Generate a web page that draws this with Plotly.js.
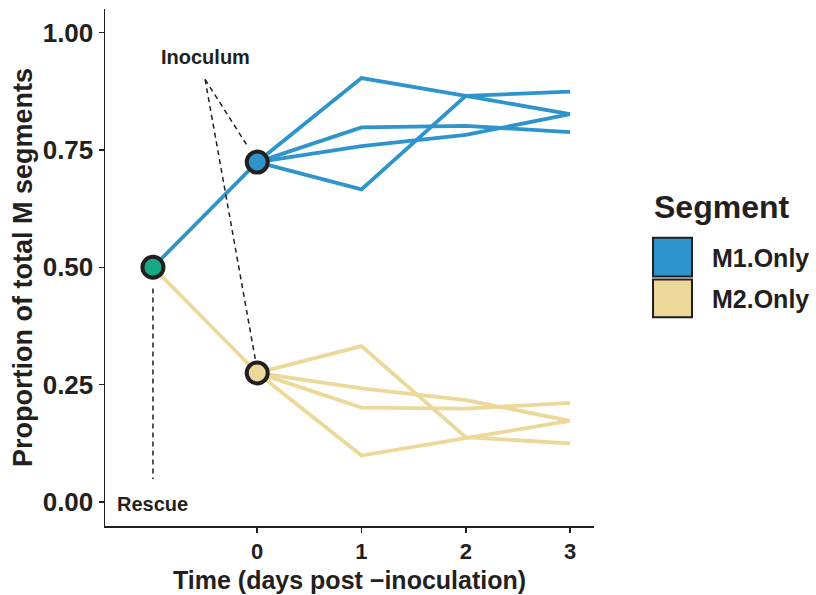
<!DOCTYPE html>
<html>
<head>
<meta charset="utf-8">
<script src="https://cdn.plot.ly/plotly-3.0.1.min.js"></script>
<style>html,body{margin:0;padding:0;background:#fff;}#chart{width:816px;height:595px;}</style>
</head>
<body>
<div id="chart"></div>
<script>
// ---- data ----
const days = [0, 1, 2, 3];
const rescueX = -1;
const rescueValue = 0.5;
const segmentNames = ["M1.Only", "M2.Only"];
const inoculumM1 = 0.724;
const inoculumM2 = 0.275;
const m1Rep1 = [0.724, 0.903, 0.865, 0.826];
const m1Rep2 = [0.724, 0.798, 0.801, 0.788];
const m1Rep3 = [0.724, 0.758, 0.782, 0.826];
const m1Rep4 = [0.724, 0.666, 0.865, 0.874];
const m2Rep1 = [0.275, 0.332, 0.138, 0.125];
const m2Rep2 = [0.275, 0.242, 0.217, 0.173];
const m2Rep3 = [0.275, 0.201, 0.199, 0.211];
const m2Rep4 = [0.275, 0.099, 0.136, 0.173];
const xTicks = [0, 1, 2, 3];
const yTicks = [0, 0.25, 0.5, 0.75, 1];
const yTickText = ["0.00", "0.25", "0.50", "0.75", "1.00"];
const labelTexts = ["Inoculum", "Rescue"];
const xTitle = "Time (days post −inoculation)";
const yTitle = "Proportion of total M segments";

// ---- styles ----
const blue = "#2E94CC", yellow = "#ECD898", green = "#16A986", ink = "#231F20";
const FONT = "Liberation Sans, Arial, sans-serif";
const bold = s => "<b>" + s + "</b>";

const traces = [];
function line(x, y, color) {
  traces.push({x: x, y: y, mode: "lines", type: "scatter", showlegend: false, hoverinfo: "skip",
    line: {color: color, width: 3.8}});
}
[m1Rep1, m1Rep2, m1Rep3, m1Rep4].forEach(r => line(days, r, blue));
[m2Rep1, m2Rep2, m2Rep3, m2Rep4].forEach(r => line(days, r, yellow));
line([rescueX, 0], [rescueValue, inoculumM1], blue);
line([rescueX, 0], [rescueValue, inoculumM2], yellow);
traces.push({x: [0, 0, rescueX], y: [inoculumM1, inoculumM2, rescueValue], mode: "markers", type: "scatter",
  showlegend: false, hoverinfo: "skip",
  marker: {size: 21, color: [blue, yellow, green], line: {color: ink, width: 4}}});

// annotation geometry (data coords)
const inocFrom = [-0.5, 0.9];
const inocTo1 = [-0.096, 0.759];
const inocTo2 = [-0.016, 0.301];
const rescueLine = [0.455, 0.049];

const dash = {color: ink, width: 1.5, dash: "5px,4px"};
const shapes = [
  {type: "line", xref: "x", yref: "y", x0: inocFrom[0], y0: inocFrom[1], x1: inocTo1[0], y1: inocTo1[1], line: dash},
  {type: "line", xref: "x", yref: "y", x0: inocFrom[0], y0: inocFrom[1], x1: inocTo2[0], y1: inocTo2[1], line: dash},
  {type: "line", xref: "x", yref: "y", x0: rescueX, y0: rescueLine[0], x1: rescueX, y1: rescueLine[1], line: dash},
  // legend keys
  {type: "rect", xref: "paper", yref: "paper", x0: 1.1207, x1: 1.2004, y0: 0.4827, y1: 0.5577,
   fillcolor: blue, line: {color: ink, width: 2}},
  {type: "rect", xref: "paper", yref: "paper", x0: 1.1207, x1: 1.2004, y0: 0.4038, y1: 0.4769,
   fillcolor: yellow, line: {color: ink, width: 2}}
];

const annotations = [
  {x: -0.5, y: 0.947, xref: "x", yref: "y", text: bold(labelTexts[0]), showarrow: false,
   font: {family: FONT, size: 20, color: ink}},
  {x: rescueX, y: -0.005, xref: "x", yref: "y", text: bold(labelTexts[1]), showarrow: false,
   font: {family: FONT, size: 20, color: ink}},
  {x: 1.1186, y: 0.617, xref: "paper", yref: "paper", xanchor: "left", yanchor: "middle",
   text: bold("Segment"), showarrow: false, font: {family: FONT, size: 32, color: ink}},
  {x: 1.2372, y: 0.519, xref: "paper", yref: "paper", xanchor: "left", yanchor: "middle",
   text: bold(segmentNames[0]), showarrow: false, font: {family: FONT, size: 25, color: ink}},
  {x: 1.2372, y: 0.440, xref: "paper", yref: "paper", xanchor: "left", yanchor: "middle",
   text: bold(segmentNames[1]), showarrow: false, font: {family: FONT, size: 25, color: ink}},
  // x-axis title
  {x: 0.5, y: 0, xref: "paper", yref: "paper", xanchor: "center", yanchor: "bottom",
   yshift: -69, text: bold(xTitle), showarrow: false, borderpad: 0,
   font: {family: FONT, size: 25, color: ink}}
];

const layout = {
  width: 816, height: 595,
  margin: {l: 105, r: 222, t: 9, b: 69},
  paper_bgcolor: "#fff", plot_bgcolor: "#fff",
  font: {family: FONT, color: ink},
  showlegend: false,
  xaxis: {
    range: [-1.46, 3.23], tickvals: xTicks, ticktext: xTicks.map(v => bold(String(v))),
    showgrid: false, zeroline: false, showline: true, linecolor: ink, linewidth: 1.5,
    ticks: "outside", ticklen: 5, tickwidth: 1.5, tickcolor: ink,
    tickfont: {family: FONT, size: 22, color: ink},
    automargin: false
  },
  yaxis: {
    range: [-0.051, 1.05], tickvals: yTicks, ticktext: yTickText.map(bold),
    showgrid: false, zeroline: false, showline: true, linecolor: ink, linewidth: 1.5,
    ticks: "outside", ticklen: 5, tickwidth: 1.5, tickcolor: ink,
    tickfont: {family: FONT, size: 26, color: ink},
    title: {text: bold(yTitle), font: {family: FONT, size: 27, color: ink}, standoff: 2},
    automargin: false
  },
  shapes: shapes,
  annotations: annotations
};

Plotly.newPlot("chart", traces, layout, {displayModeBar: false, staticPlot: true});
</script>
</body>
</html>
